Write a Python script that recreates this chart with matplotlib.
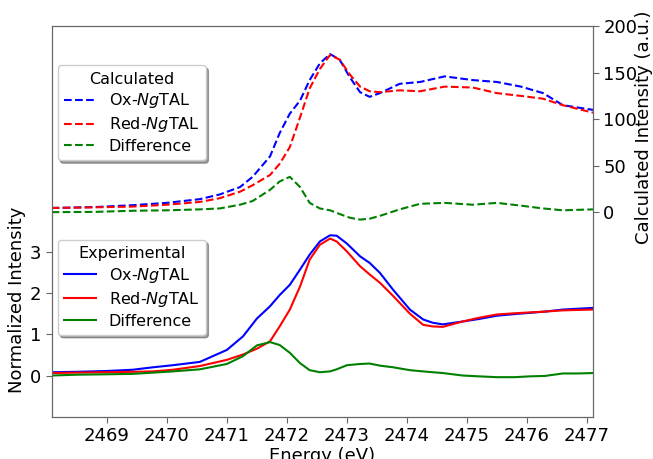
import numpy as np
import matplotlib.pyplot as plt

# Experimental spectra (left axis)
e_exp = [2468.08, 2468.5, 2469.0, 2469.43, 2469.77, 2470.1, 2470.55, 2471.0,
         2471.27, 2471.5, 2471.72, 2471.88, 2472.05, 2472.22, 2472.38, 2472.55,
         2472.72, 2472.83, 2473.0, 2473.22, 2473.38, 2473.55, 2473.77, 2474.05,
         2474.27, 2474.43, 2474.6, 2474.93, 2475.2, 2475.5, 2475.8, 2476.05,
         2476.3, 2476.6, 2476.85, 2477.1]
ox_exp = [0.08, 0.09, 0.11, 0.14, 0.2, 0.25, 0.33, 0.62,
          0.95, 1.38, 1.68, 1.95, 2.2, 2.57, 2.93, 3.25,
          3.4, 3.39, 3.2, 2.89, 2.73, 2.49, 2.08, 1.6,
          1.36, 1.28, 1.24, 1.31, 1.37, 1.45, 1.49, 1.52,
          1.55, 1.6, 1.62, 1.64]
red_exp = [0.06, 0.07, 0.08, 0.09, 0.1, 0.14, 0.23, 0.38,
           0.51, 0.65, 0.83, 1.19, 1.6, 2.16, 2.81, 3.17,
           3.32, 3.25, 3.01, 2.65, 2.45, 2.25, 1.93, 1.5,
           1.23, 1.19, 1.18, 1.31, 1.4, 1.48, 1.51, 1.53,
           1.55, 1.58, 1.59, 1.6]
diff_exp = [0.0, 0.02, 0.03, 0.04, 0.07, 0.1, 0.15, 0.28,
            0.47, 0.73, 0.81, 0.74, 0.55, 0.3, 0.13, 0.08,
            0.1, 0.15, 0.25, 0.28, 0.29, 0.24, 0.2, 0.13,
            0.1, 0.08, 0.06, 0.0, -0.02, -0.04, -0.04, -0.02,
            -0.01, 0.05, 0.05, 0.06]

# Calculated spectra (right axis)
e_calc = [2468.08, 2468.8, 2469.43, 2470.0, 2470.55, 2470.88, 2471.22, 2471.43,
          2471.72, 2471.88, 2472.05, 2472.22, 2472.38, 2472.55, 2472.72, 2472.88,
          2473.05, 2473.22, 2473.38, 2473.55, 2473.88, 2474.22, 2474.63, 2475.1,
          2475.5, 2475.9, 2476.27, 2476.6, 2477.1]
ox_calc = [4.5, 5.5, 7.5, 10, 14, 19, 27, 38,
           60, 85, 106, 120, 142, 160, 170, 164,
           145, 129, 124, 128, 138, 140, 146, 142,
           140, 135, 128, 115, 110]
red_calc = [4.5, 5.2, 6, 8, 11, 15, 22, 29,
            40, 52, 70, 102, 133, 154, 169, 164,
            148, 135, 130, 129, 131, 130, 135, 134,
            128, 125, 122, 115, 107]
diff_calc = [0, 0.3, 1.5, 2, 3, 4, 8, 12,
             24, 33, 38, 27, 10, 4, 2, -2,
             -6, -8, -7, -4, 3, 9, 10, 8,
             10, 7, 4, 2, 3]

plt.rcParams['font.size'] = 13

fig, ax = plt.subplots(figsize=(6.53, 4.59), dpi=100)
fig.subplots_adjust(left=0.079, right=0.908, top=0.943, bottom=0.092)
ax2 = ax.twinx()

ax.plot(e_exp, ox_exp, color='blue', lw=1.5, label='Ox-$\\it{Ng}$TAL')
ax.plot(e_exp, red_exp, color='red', lw=1.5, label='Red-$\\it{Ng}$TAL')
ax.plot(e_exp, diff_exp, color='green', lw=1.5, label='Difference')

ax2.plot(e_calc, ox_calc, color='blue', ls='--', lw=1.5, label='Ox-$\\it{Ng}$TAL')
ax2.plot(e_calc, red_calc, color='red', ls='--', lw=1.5, label='Red-$\\it{Ng}$TAL')
ax2.plot(e_calc, diff_calc, color='green', ls='--', lw=1.5, label='Difference')

ax.set_xlim(2468.08, 2477.1)
ax.set_ylim(-1.0, 8.47)
ax2.set_ylim(-220, 200)
ax.set_xticks(range(2469, 2478))
ax.set_yticks([0, 1, 2, 3])
ax2.set_yticks([0, 50, 100, 150, 200])

ax.set_xlabel('Energy (eV)', labelpad=1)
ax.set_ylabel('Normalized Intensity')
ax.yaxis.set_label_coords(-0.047, 0.3)
ax2.set_ylabel('Calculated Intensity (a.u.)')
ax2.yaxis.set_label_coords(1.078, 0.74)

for a in (ax, ax2):
    for s in a.spines.values():
        s.set_color('#666666')
    a.tick_params(color='#666666', length=4)

leg_kw = dict(loc='upper left', fontsize=11.5, title_fontsize=11.5, shadow=True,
              fancybox=True, borderaxespad=0, handlelength=2.0, labelspacing=0.3)
ax.legend(bbox_to_anchor=(0.011, 0.453), title='Experimental', **leg_kw)
ax2.legend(bbox_to_anchor=(0.011, 0.90), title='Calculated', **leg_kw)

plt.savefig('out.png', dpi=100)
